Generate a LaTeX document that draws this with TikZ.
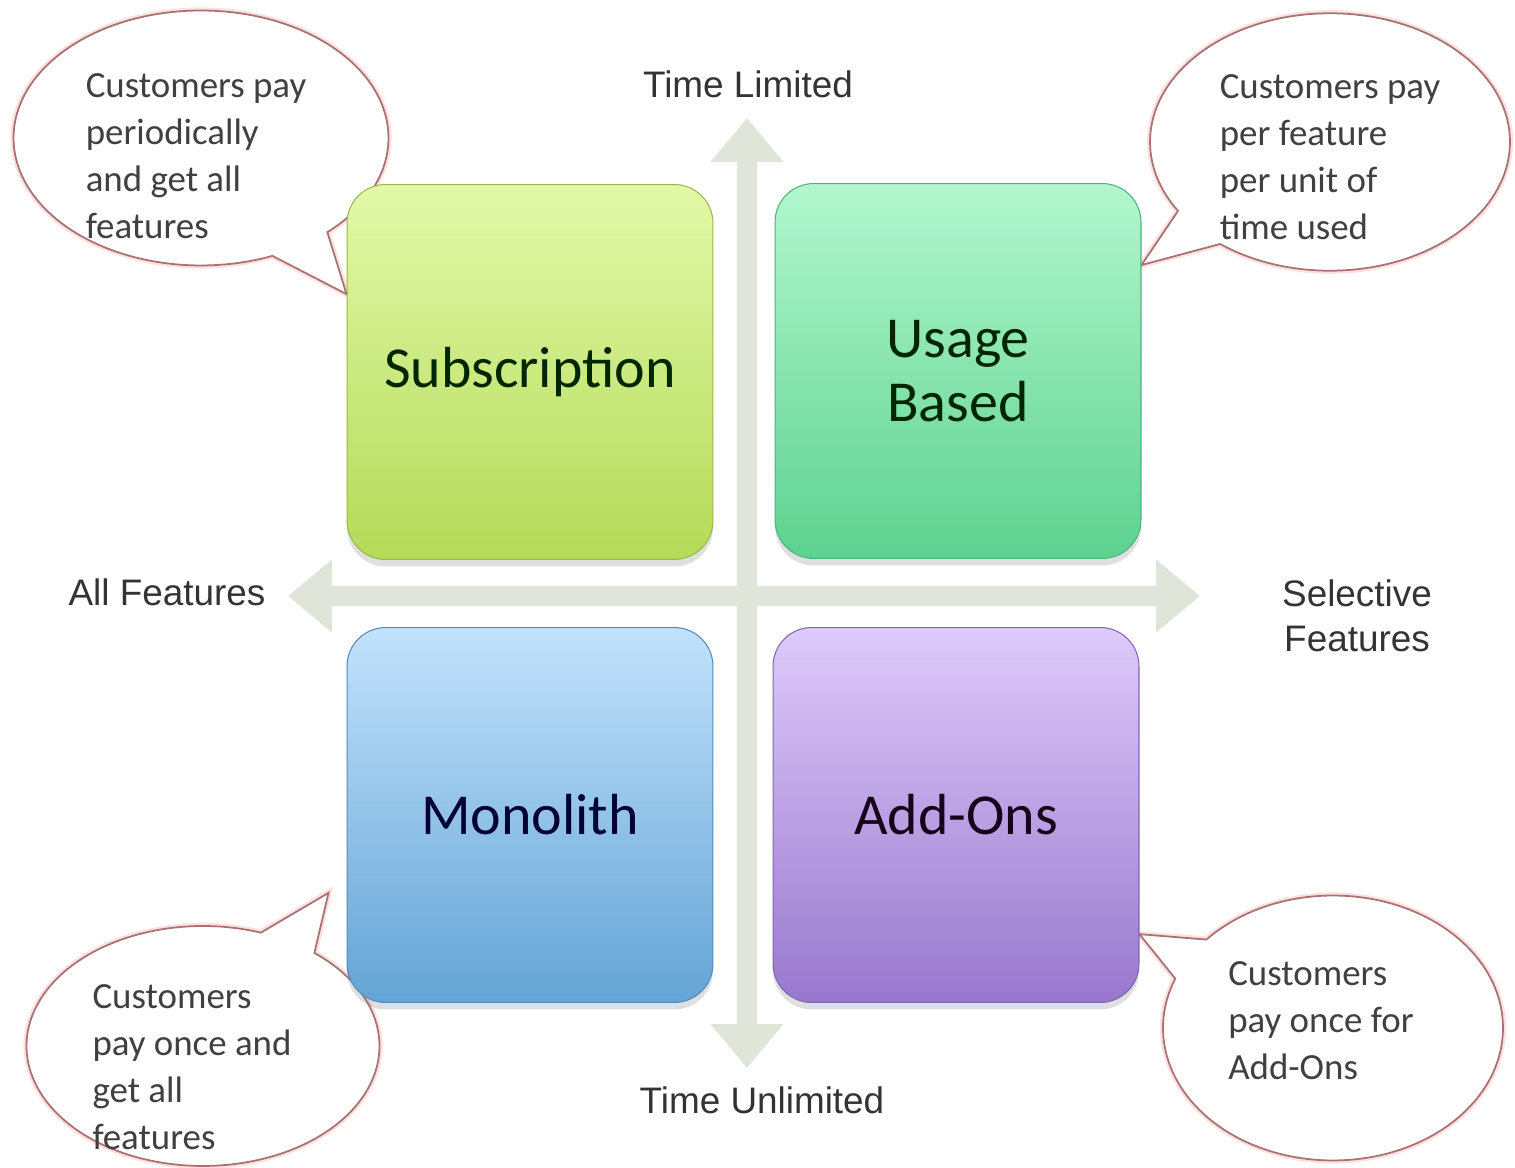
\documentclass[tikz,border=0pt]{standalone}
\usepackage{fontspec}
\setmainfont{Carlito}
\newfontfamily\axisfont{Liberation Sans}
\usetikzlibrary{positioning,calc,arrows.meta,shapes.callouts,shadows,backgrounds}

\definecolor{subtop}{HTML}{E2F9A8}
\definecolor{subbot}{HTML}{B4DA58}
\definecolor{usetop}{HTML}{B2F7CE}
\definecolor{usebot}{HTML}{5DD290}
\definecolor{montop}{HTML}{C2E2FC}
\definecolor{monbot}{HTML}{64A4D6}
\definecolor{addtop}{HTML}{DECAFA}
\definecolor{addbot}{HTML}{9878CE}
\definecolor{axisgray}{HTML}{E0E5DA}
\definecolor{notered}{HTML}{A87272}

\tikzset{
  quad/.style 2 args={rounded corners=22pt, minimum width=7.32cm,
    minimum height=7.5cm, top color=#1, bottom color=#2, draw=#2!85!black,
    line width=0.6pt, font=\fontsize{33}{36}\selectfont, align=center,
    drop shadow={shadow xshift=0pt, shadow yshift=-4pt, opacity=0.25}},
  axisline/.style={line width=11pt, draw=axisgray,
    {Triangle[length=25pt,width=40pt]}-{Triangle[length=25pt,width=40pt]}},
  axislabel/.style={font=\axisfont\fontsize{21}{25.6}\selectfont,
    text=black!80, align=center},
  note/.style={ellipse callout, draw=notered, line width=1pt, fill=white,
    preaction={draw=red!12, line width=3.5pt}, callout pointer arc=20},
  notetext/.style={align=left, inner sep=0pt, text=black!75,
    font=\fontsize{21}{26.7}\selectfont}
}

\begin{document}
\begin{tikzpicture}[x=0.02cm,y=-0.02cm]
\useasboundingbox (0,0) rectangle (1515,1168);

% the four models
\node[quad={subtop}{subbot}, text=black!85!green] (sub) at (530,372) {Subscription};
\node[quad={usetop}{usebot}, text=black!85!green] (usage) at (958,371) {Usage\\Based};
\node[quad={montop}{monbot}, text=black!80!blue] (mono) at (530,815) {Monolith};
\node[quad={addtop}{addbot}, text=black!80!violet] (addons) at (956,815) {Add-Ons};

% axis labels
\node[axislabel] (limited) at (748,84) {Time Limited};
\node[axislabel] (unlimited) at (762,1100) {Time Unlimited};
\node[axislabel] (allfeat) at (167,592) {All Features};
\node[axislabel] (selfeat) at (1357,616) {Selective\\Features};

\begin{pgfonlayer}{background}
% axes
\coordinate (vtop) at (747,118);
\coordinate (vbot) at (747,1068);
\coordinate (hleft) at (288,596);
\coordinate (hright) at (1200,596);
\draw[axisline] (vtop) -- (vbot);
\draw[axisline] (hleft) -- (hright);

% callouts
\node[note, minimum width=7.5cm, minimum height=5.1cm,
  callout absolute pointer={(sub.157)}] (subnote) at (201,138) {};
\node[note, minimum width=7.2cm, minimum height=5.15cm,
  callout absolute pointer={(usage.30)}] (usenote) at (1330,142) {};
\node[note, minimum width=7.06cm, minimum height=4.8cm,
  callout absolute pointer={($(mono.203)+(-18,0)$)}] (monnote) at (203,1046) {};
\node[note, minimum width=6.8cm, minimum height=5.3cm,
  callout absolute pointer={(addons.-33)}] (addnote) at (1333,1028) {};
\end{pgfonlayer}

\node[notetext] (subtext) at (196,156)
  {Customers pay\\periodically\\and get all\\features};
\node[notetext] (usetext) at (1330,157)
  {Customers pay\\per feature\\per unit of\\time used};
\node[notetext] (montext) at (192,1067)
  {Customers\\pay once and\\get all\\features};
\node[notetext] (addtext) at (1321,1021)
  {Customers\\pay once for\\Add-Ons};
\end{tikzpicture}
\end{document}
